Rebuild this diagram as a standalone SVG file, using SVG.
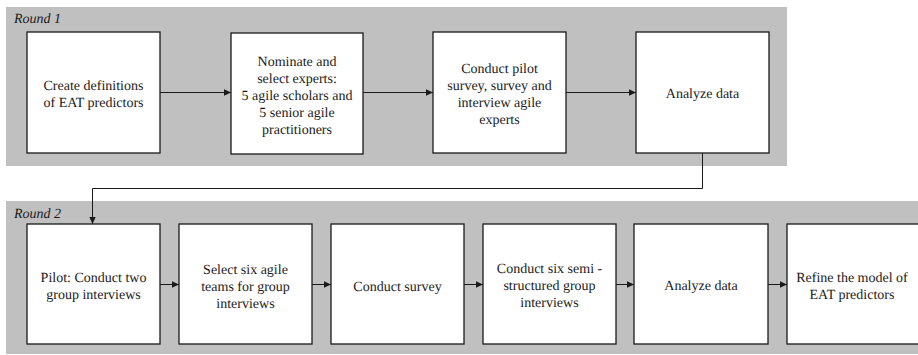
<svg xmlns="http://www.w3.org/2000/svg" width="918" height="355" viewBox="0 0 918 355" text-rendering="geometricPrecision">
<defs>
<marker id="ah" markerWidth="8" markerHeight="8" refX="7" refY="4" orient="auto" markerUnits="userSpaceOnUse">
<path d="M0,0.8 L7,4 L0,7.2 Z" fill="#1a1a1a"/>
</marker>
</defs>
<rect x="0" y="0" width="918" height="355" fill="#fff"/>
<rect fill="#c0c0c0" x="6" y="7" width="781" height="159"/>
<rect fill="#c0c0c0" x="6" y="201" width="912" height="153"/>
<g font-family="Liberation Serif, serif" font-size="14" fill="#1a1a1a" font-style="italic">
<text x="14" y="23">Round 1</text>
<text x="14" y="218">Round 2</text>
</g>
<g id="connectors" fill="none" stroke="#1a1a1a" stroke-width="1">
<path d="M160,92.5 H231" marker-end="url(#ah)"/>
<path d="M363,92.5 H433" marker-end="url(#ah)"/>
<path d="M566,92.5 H636" marker-end="url(#ah)"/>
<path d="M702.5,153 V188.5 H92.5 V224" marker-end="url(#ah)"/>
<path d="M160,284.5 H179" marker-end="url(#ah)"/>
<path d="M312,284.5 H331" marker-end="url(#ah)"/>
<path d="M464,284.5 H483" marker-end="url(#ah)"/>
<path d="M616,284.5 H634" marker-end="url(#ah)"/>
<path d="M768,284.5 H787" marker-end="url(#ah)"/>
</g>
<g fill="#fff" stroke="#1a1a1a" stroke-width="1.3">
<rect id="n1" x="27" y="32" width="133" height="121"/>
<rect id="n2" x="231" y="33" width="132" height="121"/>
<rect id="n3" x="433" y="32" width="133" height="121"/>
<rect id="n4" x="636" y="32" width="133" height="121"/>
<rect id="m1" x="27" y="224" width="133" height="120"/>
<rect id="m2" x="179" y="224" width="133" height="120"/>
<rect id="m3" x="331" y="224" width="133" height="120"/>
<rect id="m4" x="483" y="224" width="133" height="120"/>
<rect id="m5" x="634" y="224" width="134" height="120"/>
<rect id="m6" x="787" y="224" width="134" height="120"/>
</g>
<g font-family="Liberation Serif, serif" font-size="14" fill="#1a1a1a" text-anchor="middle">
<text x="93.5" y="90">Create definitions</text>
<text x="93.5" y="107">of EAT predictors</text>
<text x="297" y="66">Nominate and</text>
<text x="297" y="83">select experts:</text>
<text x="297" y="100">5 agile scholars and</text>
<text x="297" y="117">5 senior agile</text>
<text x="297" y="134">practitioners</text>
<text x="499.5" y="73">Conduct pilot</text>
<text x="499.5" y="90">survey, survey and</text>
<text x="499.5" y="107">interview agile</text>
<text x="499.5" y="124">experts</text>
<text x="702.5" y="98">Analyze data</text>
<text x="93.5" y="282">Pilot: Conduct two</text>
<text x="93.5" y="299">group interviews</text>
<text x="245.5" y="274">Select six agile</text>
<text x="245.5" y="291">teams for group</text>
<text x="245.5" y="308">interviews</text>
<text x="397.5" y="291">Conduct survey</text>
<text x="549.5" y="273">Conduct six semi -</text>
<text x="549.5" y="290">structured group</text>
<text x="549.5" y="307">interviews</text>
<text x="701" y="290">Analyze data</text>
<text x="852" y="282">Refine the model of</text>
<text x="852" y="299">EAT predictors</text>
</g>
</svg>
